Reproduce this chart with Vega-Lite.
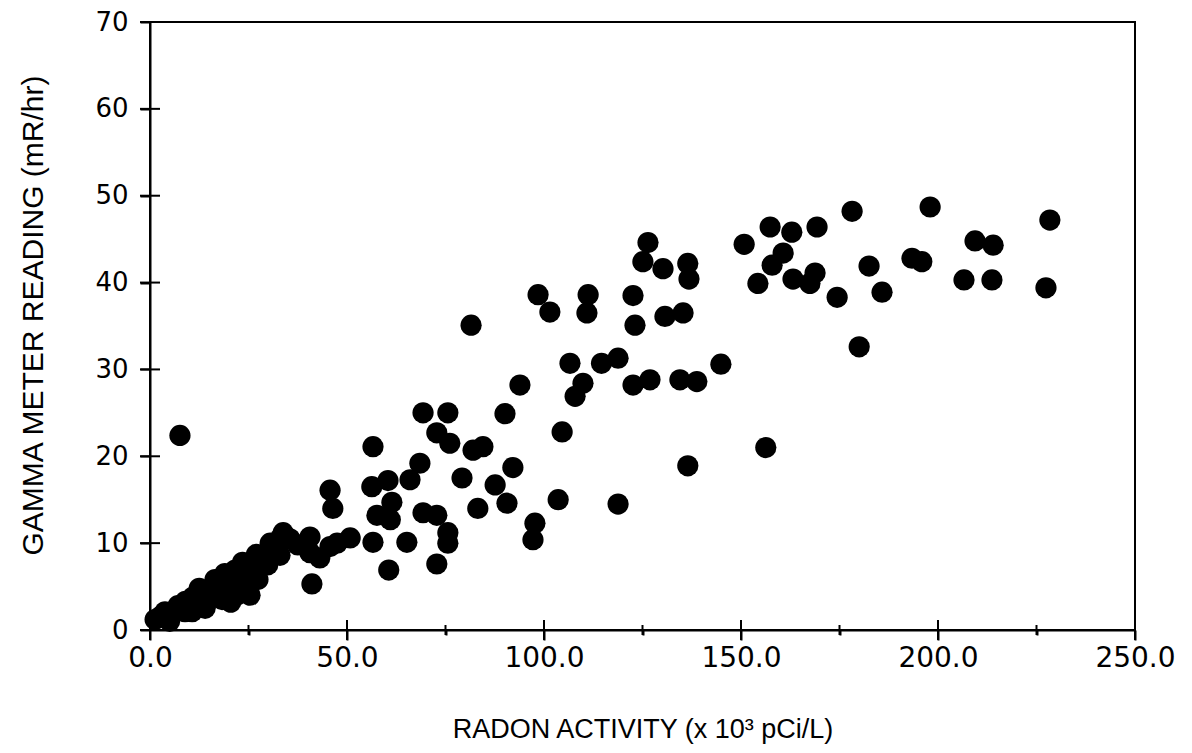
{
  "$schema": "https://vega.github.io/schema/vega-lite/v6.json",
  "width": 985,
  "height": 608,
  "autosize": "none",
  "padding": {"left": 150, "top": 22, "right": 57, "bottom": 123},
  "background": "white",
  "config": {
    "view": {"stroke": "black", "strokeWidth": 2},
    "axis": {"domainColor": "black", "domainWidth": 2, "tickColor": "black", "tickWidth": 2, "grid": false, "labelColor": "black", "titleColor": "black"}
  },
  "datasets": {
    "points": [
      {"radon": 178.2, "gamma": 48.2}, {"radon": 198.0, "gamma": 48.7}, {"radon": 228.4, "gamma": 47.2},
      {"radon": 209.4, "gamma": 44.8}, {"radon": 214.0, "gamma": 44.3}, {"radon": 182.5, "gamma": 41.9},
      {"radon": 193.4, "gamma": 42.8}, {"radon": 195.9, "gamma": 42.4}, {"radon": 206.6, "gamma": 40.3},
      {"radon": 213.7, "gamma": 40.3}, {"radon": 227.4, "gamma": 39.4}, {"radon": 185.8, "gamma": 38.9},
      {"radon": 174.4, "gamma": 38.3}, {"radon": 180.0, "gamma": 32.6}, {"radon": 157.4, "gamma": 46.4},
      {"radon": 162.9, "gamma": 45.8}, {"radon": 169.3, "gamma": 46.4}, {"radon": 126.4, "gamma": 44.6},
      {"radon": 150.8, "gamma": 44.4}, {"radon": 160.7, "gamma": 43.4}, {"radon": 157.9, "gamma": 42.0},
      {"radon": 125.1, "gamma": 42.4}, {"radon": 130.2, "gamma": 41.6}, {"radon": 136.5, "gamma": 42.2},
      {"radon": 136.8, "gamma": 40.4}, {"radon": 154.3, "gamma": 39.9}, {"radon": 163.2, "gamma": 40.4},
      {"radon": 167.5, "gamma": 39.9}, {"radon": 168.8, "gamma": 41.1}, {"radon": 122.6, "gamma": 38.5},
      {"radon": 123.1, "gamma": 35.1}, {"radon": 130.7, "gamma": 36.1}, {"radon": 135.3, "gamma": 36.5},
      {"radon": 118.8, "gamma": 31.3}, {"radon": 114.6, "gamma": 30.7}, {"radon": 106.6, "gamma": 30.7},
      {"radon": 122.6, "gamma": 28.2}, {"radon": 126.9, "gamma": 28.8}, {"radon": 134.5, "gamma": 28.8},
      {"radon": 138.8, "gamma": 28.6}, {"radon": 144.9, "gamma": 30.6}, {"radon": 156.3, "gamma": 21.0},
      {"radon": 136.5, "gamma": 18.9}, {"radon": 118.8, "gamma": 14.5}, {"radon": 81.5, "gamma": 35.1},
      {"radon": 98.5, "gamma": 38.6}, {"radon": 101.5, "gamma": 36.6}, {"radon": 111.2, "gamma": 38.6},
      {"radon": 110.9, "gamma": 36.5}, {"radon": 109.9, "gamma": 28.4}, {"radon": 107.9, "gamma": 26.9},
      {"radon": 93.9, "gamma": 28.2}, {"radon": 69.3, "gamma": 25.0}, {"radon": 75.6, "gamma": 25.0},
      {"radon": 90.1, "gamma": 24.9}, {"radon": 72.8, "gamma": 22.7}, {"radon": 76.1, "gamma": 21.5},
      {"radon": 82.0, "gamma": 20.7}, {"radon": 84.5, "gamma": 21.1}, {"radon": 104.6, "gamma": 22.8},
      {"radon": 56.6, "gamma": 21.1}, {"radon": 68.5, "gamma": 19.2}, {"radon": 66.0, "gamma": 17.3},
      {"radon": 60.4, "gamma": 17.2}, {"radon": 56.3, "gamma": 16.5}, {"radon": 61.4, "gamma": 14.7},
      {"radon": 57.6, "gamma": 13.2}, {"radon": 61.0, "gamma": 12.7}, {"radon": 69.3, "gamma": 13.5},
      {"radon": 72.8, "gamma": 13.2}, {"radon": 75.6, "gamma": 11.2}, {"radon": 75.6, "gamma": 10.0},
      {"radon": 65.2, "gamma": 10.1}, {"radon": 56.6, "gamma": 10.1}, {"radon": 50.8, "gamma": 10.6},
      {"radon": 79.2, "gamma": 17.5}, {"radon": 92.1, "gamma": 18.7}, {"radon": 87.6, "gamma": 16.7},
      {"radon": 90.6, "gamma": 14.6}, {"radon": 83.2, "gamma": 14.0}, {"radon": 103.6, "gamma": 15.0},
      {"radon": 97.2, "gamma": 10.4}, {"radon": 97.7, "gamma": 12.3}, {"radon": 72.8, "gamma": 7.6},
      {"radon": 60.6, "gamma": 6.9}, {"radon": 45.7, "gamma": 16.1}, {"radon": 46.4, "gamma": 14.0},
      {"radon": 33.8, "gamma": 11.2}, {"radon": 40.6, "gamma": 10.7}, {"radon": 45.7, "gamma": 9.6},
      {"radon": 47.5, "gamma": 10.0}, {"radon": 40.6, "gamma": 8.9}, {"radon": 43.1, "gamma": 8.3},
      {"radon": 41.1, "gamma": 5.3}, {"radon": 7.6, "gamma": 22.4},
      {"radon": 1.3, "gamma": 1.2}, {"radon": 2.5, "gamma": 1.5}, {"radon": 3.8, "gamma": 2.1},
      {"radon": 7.1, "gamma": 2.8}, {"radon": 8.9, "gamma": 2.1}, {"radon": 10.7, "gamma": 2.1},
      {"radon": 10.9, "gamma": 3.8}, {"radon": 14.0, "gamma": 4.4}, {"radon": 14.0, "gamma": 2.5},
      {"radon": 16.5, "gamma": 5.8}, {"radon": 18.3, "gamma": 4.4}, {"radon": 18.3, "gamma": 3.5},
      {"radon": 21.6, "gamma": 6.9}, {"radon": 22.8, "gamma": 5.2}, {"radon": 25.4, "gamma": 7.5},
      {"radon": 25.4, "gamma": 4.0}, {"radon": 27.4, "gamma": 5.8}, {"radon": 28.4, "gamma": 8.6},
      {"radon": 29.9, "gamma": 7.5}, {"radon": 31.7, "gamma": 9.8}, {"radon": 33.0, "gamma": 8.6},
      {"radon": 12.5, "gamma": 4.8}, {"radon": 20.0, "gamma": 5.8}, {"radon": 23.5, "gamma": 7.8},
      {"radon": 27.0, "gamma": 8.7}, {"radon": 30.5, "gamma": 10.0}, {"radon": 35.5, "gamma": 10.5},
      {"radon": 24.0, "gamma": 4.5}, {"radon": 20.5, "gamma": 3.2}, {"radon": 17.0, "gamma": 5.0},
      {"radon": 26.0, "gamma": 6.5}, {"radon": 30.0, "gamma": 8.8}, {"radon": 33.0, "gamma": 10.5},
      {"radon": 22.0, "gamma": 4.0}, {"radon": 15.0, "gamma": 3.5}, {"radon": 9.0, "gamma": 3.3},
      {"radon": 5.0, "gamma": 1.0}, {"radon": 19.0, "gamma": 6.5}, {"radon": 37.5, "gamma": 9.8}
    ],
    "xmajor": [{"v": 0}, {"v": 50}, {"v": 100}, {"v": 150}, {"v": 200}, {"v": 250}],
    "xminor": [{"v": 25}, {"v": 75}, {"v": 125}, {"v": 175}, {"v": 225}],
    "yticks": [{"v": 0}, {"v": 10}, {"v": 20}, {"v": 30}, {"v": 40}, {"v": 50}, {"v": 60}, {"v": 70}]
  },
  "layer": [
    {
      "data": {"name": "points"},
      "mark": {"type": "circle", "size": 450, "color": "black", "opacity": 1},
      "encoding": {
        "x": {
          "field": "radon", "type": "quantitative",
          "scale": {"domain": [0, 250], "nice": false, "zero": true},
          "axis": {
            "orient": "bottom",
            "values": [0, 25, 50, 75, 100, 125, 150, 175, 200, 225, 250],
            "labelExpr": "datum.value % 50 === 0 ? format(datum.value, '.1f') : ''",
            "labelFont": "DejaVu Sans", "labelFontSize": 28, "labelPadding": 4,
            "labelFlush": false, "labelOverlap": false,
            "tickSize": {"condition": {"test": "datum.value % 50 === 0", "value": 10}, "value": 5},
            "title": "RADON ACTIVITY (x 10³ pCi/L)",
            "titleFont": "Liberation Sans", "titleFontSize": 27, "titleFontWeight": "normal",
            "titleY": 107, "titleBaseline": "alphabetic"
          }
        },
        "y": {
          "field": "gamma", "type": "quantitative",
          "scale": {"domain": [0, 70], "nice": false},
          "axis": {
            "orient": "left",
            "values": [0, 10, 20, 30, 40, 50, 60, 70],
            "format": "d",
            "labelFont": "DejaVu Sans", "labelFontSize": 26, "labelPadding": 12,
            "labelFlush": false, "labelOverlap": false,
            "tickSize": 10,
            "title": "GAMMA METER READING (mR/hr)",
            "titleFont": "Liberation Sans", "titleFontSize": 30, "titleFontWeight": "normal",
            "titleAngle": -90, "titleX": -108, "titleY": 293, "titleAlign": "center", "titleBaseline": "alphabetic"
          }
        }
      }
    },
    {
      "data": {"name": "xmajor"},
      "mark": {"type": "tick", "orient": "vertical", "size": 20, "thickness": 2, "color": "black", "opacity": 1},
      "encoding": {
        "x": {"field": "v", "type": "quantitative"},
        "y": {"datum": 0, "type": "quantitative"}
      }
    },
    {
      "data": {"name": "xminor"},
      "mark": {"type": "tick", "orient": "vertical", "size": 10, "thickness": 2, "color": "black", "opacity": 1},
      "encoding": {
        "x": {"field": "v", "type": "quantitative"},
        "y": {"datum": 0, "type": "quantitative"}
      }
    },
    {
      "data": {"name": "yticks"},
      "mark": {"type": "tick", "orient": "horizontal", "size": 20, "thickness": 2, "color": "black", "opacity": 1},
      "encoding": {
        "y": {"field": "v", "type": "quantitative"},
        "x": {"datum": 0, "type": "quantitative"}
      }
    }
  ]
}
